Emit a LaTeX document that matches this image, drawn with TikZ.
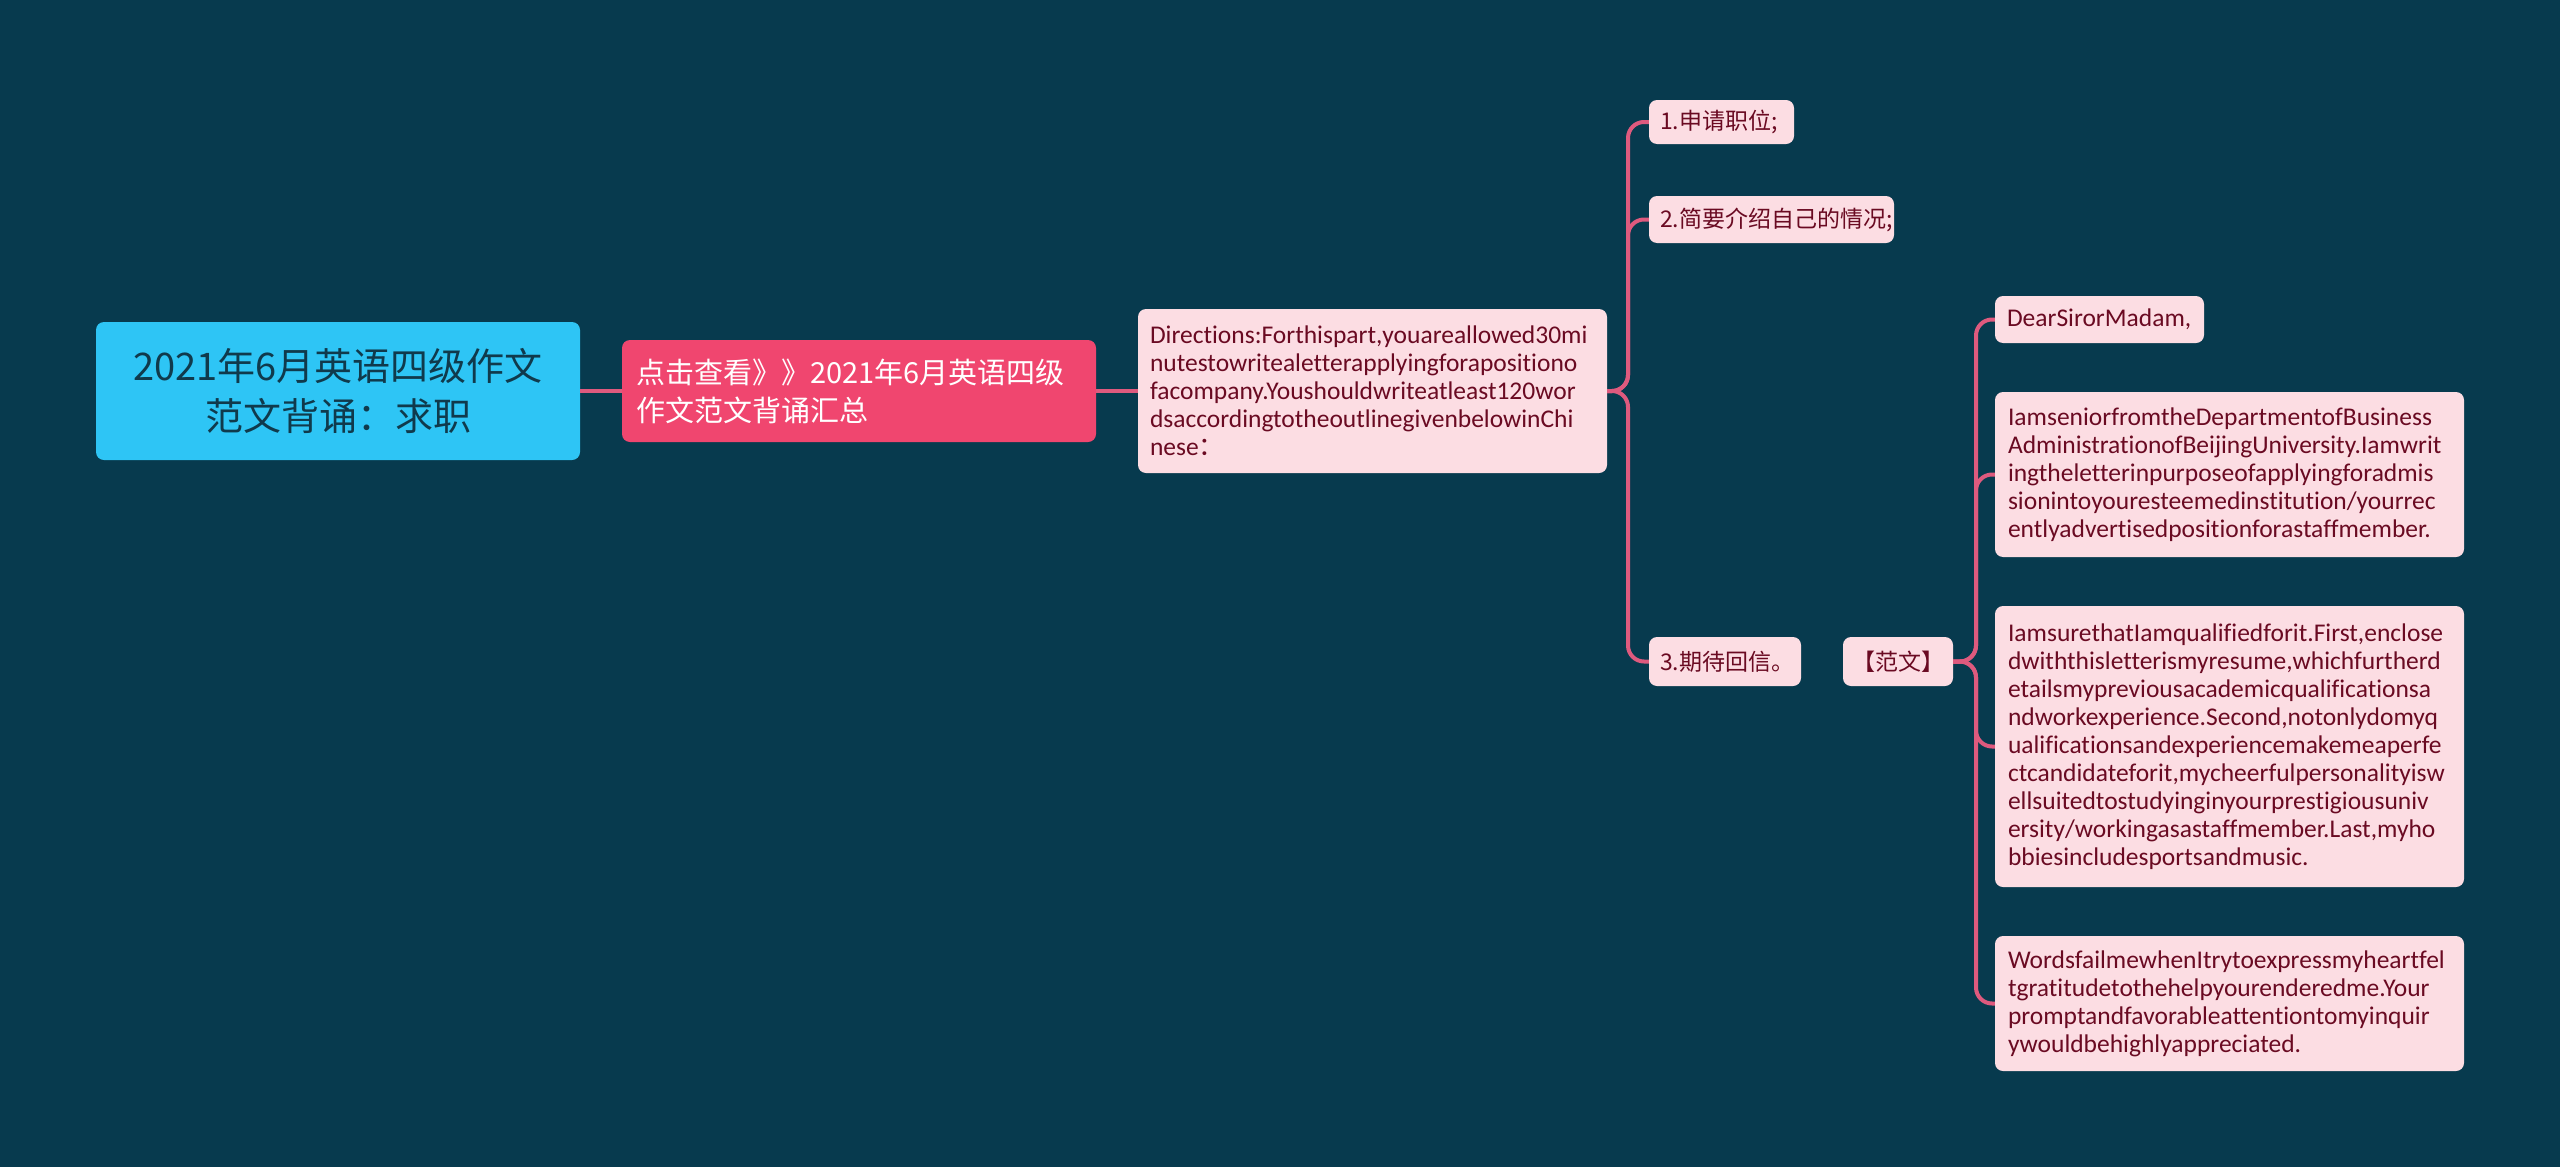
\documentclass[tikz,border=0pt]{standalone}
\usepackage{fontspec}
\setmainfont{Carlito}[Ligatures={NoCommon}]
\newfontfamily\cjk{Noto Sans CJK SC}
\definecolor{bg}{HTML}{073A4E}
\definecolor{rootc}{HTML}{2EC5F5}
\definecolor{hubc}{HTML}{F0466F}
\definecolor{leafc}{HTML}{FCDDE3}
\definecolor{leaft}{HTML}{6A0A22}
\definecolor{linec}{HTML}{DE5A7E}
\definecolor{roott}{HTML}{103A4C}
\tikzset{
  box/.style={rounded corners=8pt, inner sep=0pt, anchor=center},
  rootbox/.style={box, fill=rootc, text=roott, align=center, font=\cjk\fontsize{38}{50}\selectfont},
  hubbox/.style={box, fill=hubc, text=white, align=left, font=\cjk\fontsize{29}{38}\selectfont},
  leafbox/.style={box, fill=leafc, text=leaft, align=left, font=\fontsize{25.5}{28}\selectfont},
  cjkleaf/.style={leafbox, font=\cjk\fontsize{23}{28}\selectfont},
  conn/.style={draw=linec, line width=4pt, rounded corners=16pt},
}
\begin{document}
\begin{tikzpicture}[x=1pt,y=-1pt]
\fill[bg] (0,0) rectangle (2560,1167);
\useasboundingbox (0,0) rectangle (2560,1167);

% nodes
\node[rootbox, minimum width=484pt, minimum height=138pt] (root) at (338,391)
  {2021年6月英语四级作文\\范文背诵：求职};
\node[hubbox, minimum width=474pt, minimum height=102pt, text width=446pt] (hub) at (859,391)
  {点击查看》》2021年6月英语四级\\作文范文背诵汇总};
\node[leafbox, minimum width=469pt, minimum height=164pt, text width=445pt] (dir) at (1372.5,391)
  {Directions:Forthispart,youareallowed30mi\\nutestowritealetterapplyingforapositiono\\facompany.Youshouldwriteatleast120wor\\dsaccordingtotheoutlinegivenbelowinChi\\nese{\cjk ：}};
\node[cjkleaf, minimum width=145pt, minimum height=44pt, text width=123pt] (s1) at (1721.5,122)
  {1.申请职位;};
\node[cjkleaf, minimum width=245pt, minimum height=47pt, text width=223pt] (s2) at (1771.5,219.5)
  {2.简要介绍自己的情况;};
\node[cjkleaf, minimum width=152pt, minimum height=49pt, text width=130pt] (s3) at (1725,661.5)
  {3.期待回信。};
\node[cjkleaf, minimum width=110pt, minimum height=49pt, align=center] (fw) at (1898,661.5)
  {【范文】};
\node[leafbox, minimum width=209pt, minimum height=47pt, text width=185pt] (d1) at (2099.5,319.5)
  {DearSirorMadam,};
\node[leafbox, minimum width=469pt, minimum height=165pt, text width=443pt] (p1) at (2229.5,474.5)
  {IamseniorfromtheDepartmentofBusiness\\AdministrationofBeijingUniversity.Iamwrit\\ingtheletterinpurposeofapplyingforadmis\\sionintoyouresteemedinstitution/yourrec\\entlyadvertisedpositionforastaffmember.};
\node[leafbox, minimum width=469pt, minimum height=281pt, text width=443pt] (p2) at (2229.5,746.5)
  {IamsurethatIamqualifiedforit.First,enclose\\dwiththisletterismyresume,whichfurtherd\\etailsmypreviousacademicqualificationsa\\ndworkexperience.Second,notonlydomyq\\ualificationsandexperiencemakemeaperfe\\ctcandidateforit,mycheerfulpersonalityisw\\ellsuitedtostudyinginyourprestigiousuniv\\ersity/workingasastaffmember.Last,myho\\bbiesincludesportsandmusic.};
\node[leafbox, minimum width=469pt, minimum height=135pt, text width=443pt] (p3) at (2229.5,1003.5)
  {WordsfailmewhenItrytoexpressmyheartfel\\tgratitudetothehelpyourenderedme.Your\\promptandfavorableattentiontomyinquir\\ywouldbehighlyappreciated.};

% connectors
\draw[conn] (root.east) -- (hub.west);
\draw[conn] (hub.east) -- (dir.west);
\coordinate (b1) at (1628,391);
\foreach \c in {s1,s2,s3}
  \draw[conn] (dir.east) -- (b1) |- (\c.west);
\coordinate (b2) at (1976,661.5);
\foreach \c in {d1,p1,p2,p3}
  \draw[conn] (fw.east) -- (b2) |- (\c.west);
\end{tikzpicture}
\end{document}
